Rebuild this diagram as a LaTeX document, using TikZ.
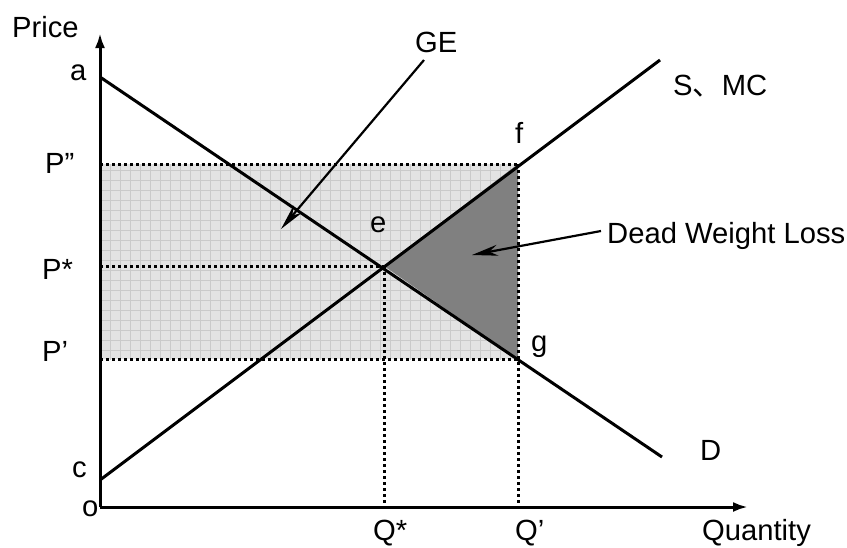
\documentclass[tikz,border=0pt]{standalone}
\usepackage{fontspec}
\setmainfont{Liberation Sans}
\newfontfamily\cjkfont{Noto Sans CJK SC}
\usetikzlibrary{arrows.meta}
\definecolor{lightfill}{HTML}{E3E3E3}
\definecolor{gridcol}{HTML}{CACACA}
\definecolor{dwlfill}{HTML}{808080}
\begin{document}
\begin{tikzpicture}[x=1pt,y=-1pt,
 lbl/.style={anchor=base west,inner sep=0pt,font=\fontsize{29.2}{33}\selectfont},
 curve/.style={line width=3pt},
 axisline/.style={line width=3pt,-{Latex[length=15pt,width=10pt]}},
 dotline/.style={line width=3pt,dash pattern=on 3pt off 3pt},
 pointer/.style={line width=2.2pt,-{Stealth[length=26pt,width=11pt]}},
]
\useasboundingbox (0,0) rectangle (847,547);
% key points
\coordinate (o) at (100,507);
\coordinate (ytip) at (100,33);
\coordinate (xtip) at (748,507);
\coordinate (a) at (100,77);
\coordinate (dend) at (662,457);
\coordinate (c) at (100,480);
\coordinate (send) at (660,60);
\coordinate (e) at (384,266);
\coordinate (f) at (518,164);
\coordinate (g) at (518,359);
\coordinate (pdd) at (100,164);
\coordinate (ps) at (100,266);
\coordinate (pp) at (100,359);
\coordinate (qs) at (384,507);
\coordinate (qp) at (518,507);
% shaded rectangle with grid
\fill[lightfill] (pdd) rectangle (g);
\begin{scope}
\clip (pdd) rectangle (g);
\draw[gridcol,line width=0.8pt,step=10pt] (90,150) grid (530,370);
\end{scope}
% dead weight loss triangle
\fill[dwlfill] (e) -- (f) -- (g) -- cycle;
% dotted guide lines
\draw[dotline] (pdd) -- (f);
\draw[dotline] (ps) -- (e);
\draw[dotline] (pp) -- (g);
\draw[dotline] (e) -- (qs);
\draw[dotline] (f) -- (qp);
% curves
\draw[curve] (a) -- (dend);
\draw[curve] (c) -- (send);
% axes
\draw[axisline] (o) -- (ytip);
\draw[axisline] (o) -- (xtip);
% labels
\node[lbl] (lprice) at (12,37) {Price};
\node[lbl] (la) at (70,80) {a};
\node[lbl] (lpdd) at (45,173) {P”};
\node[lbl] (lps) at (42,279) {P*};
\node[lbl] (lpp) at (42,361) {P’};
\node[lbl] (lc) at (72,477) {c};
\node[lbl] (lo) at (82,516) {o};
\node[lbl] (lqs) at (373,540) {Q*};
\node[lbl] (lqp) at (515,540) {Q’};
\node[lbl] (lqty) at (702,540) {Quantity};
\node[lbl] (ld) at (700,460) {D};
\node[lbl] (lg) at (531,351) {g};
\node[lbl] (le) at (370,232) {e};
\node[lbl] (lf) at (515,143) {f};
\node[lbl] (lge) at (415,52) {GE};
\node[lbl] (lsmc) at (673,95) {S{\cjkfont 、}MC};
\node[lbl] (ldwl) at (607,243) {Dead Weight Loss};
% pointers
\coordinate (gestart) at (424,60);
\coordinate (getip) at (281,229);
\coordinate (dwlstart) at (601,231);
\coordinate (dwltip) at (472,255);
\draw[pointer] (gestart) -- (getip);
\draw[pointer] (dwlstart) -- (dwltip);
\end{tikzpicture}
\end{document}
